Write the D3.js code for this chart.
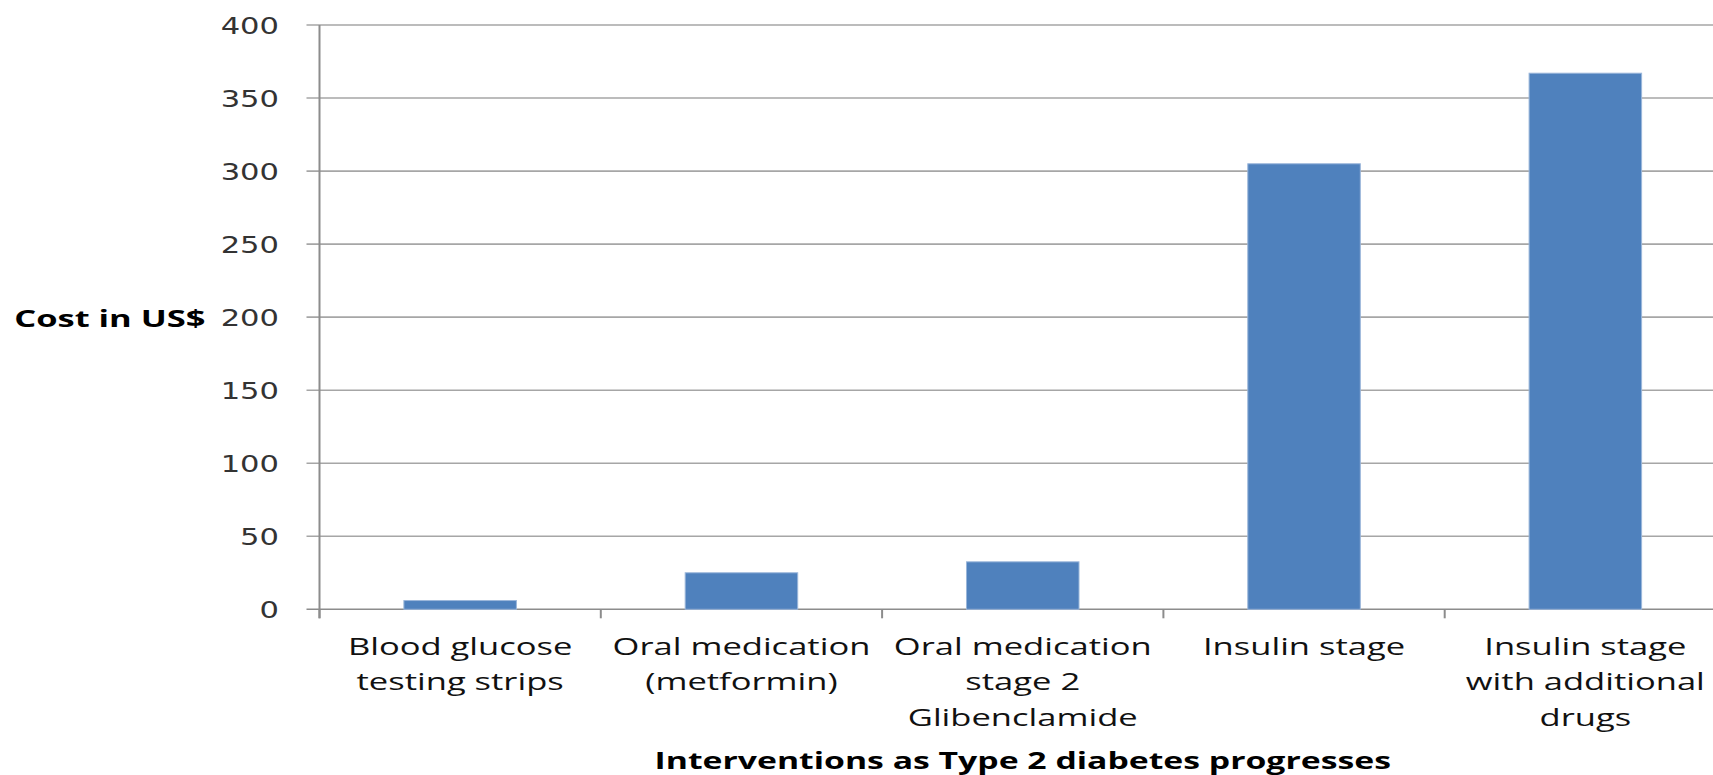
<!DOCTYPE html>
<html>
<head>
<meta charset="utf-8">
<script src="https://cdn.jsdelivr.net/npm/d3@7"></script>
<style>
  html, body { margin: 0; padding: 0; background: #ffffff; }
  svg { display: block; }
</style>
</head>
<body>
<svg id="chart" width="1713" height="775"></svg>
<script>
// ---- data ----
const categories = [
  "Blood glucose\ntesting strips",
  "Oral medication\n(metformin)",
  "Oral medication\nstage 2\nGlibenclamide",
  "Insulin stage",
  "Insulin stage\nwith additional\ndrugs"
];
const costs = [6, 25, 32.5, 305, 367];
const yTickValues = [0, 50, 100, 150, 200, 250, 300, 350, 400];
const yTitle = "Cost in US$";
const xTitle = "Interventions as Type 2 diabetes progresses";

// ---- layout ----
const W = 1713, H = 775;
const plot = { left: 319.5, right: 1726, top: 25, bottom: 609.3 };
const SX_TICK = 1.33;  // horizontal text stretch seen in the reference
const SX_CAT = 1.41;
const SX_BOLD = 1.5;

const svg = d3.select("#chart");

const x = d3.scaleBand()
  .domain(categories)
  .range([plot.left, plot.right])
  .paddingInner(0.6)
  .paddingOuter(0.3);

const y = d3.scaleLinear()
  .domain([0, 400])
  .range([plot.bottom, plot.top]);

// gridlines (with left tick stubs)
svg.append("g")
  .selectAll("line")
  .data(yTickValues)
  .join("line")
  .attr("x1", plot.left - 13)
  .attr("x2", W)
  .attr("y1", d => y(d))
  .attr("y2", d => y(d))
  .attr("stroke", d => d === 0 ? "#8c8c8c" : "#a6a6a6")
  .attr("stroke-width", 1.6);

// y axis line
svg.append("line")
  .attr("x1", plot.left).attr("x2", plot.left)
  .attr("y1", y(400)).attr("y2", plot.bottom + 9)
  .attr("stroke", "#8c8c8c")
  .attr("stroke-width", 2);

// x tick marks at band boundaries
const step = x.step();
const boundaries = d3.range(categories.length + 1).map(i => x.range()[0] + i * step);
svg.append("g")
  .selectAll("line")
  .data(boundaries)
  .join("line")
  .attr("x1", d => d).attr("x2", d => d)
  .attr("y1", plot.bottom).attr("y2", plot.bottom + 9)
  .attr("stroke", "#8c8c8c")
  .attr("stroke-width", 2);

// bars
svg.append("g")
  .selectAll("rect")
  .data(categories.map((c, i) => ({ c, v: costs[i] })))
  .join("rect")
  .attr("x", d => x(d.c))
  .attr("width", x.bandwidth())
  .attr("y", d => y(d.v))
  .attr("height", d => y(0) - y(d.v))
  .attr("fill", "#4f81bd")
  .attr("stroke", "#9ab6da")
  .attr("stroke-width", 1);

// y tick labels
svg.append("g")
  .selectAll("text")
  .data(yTickValues)
  .join("text")
  .attr("transform", d => `translate(279,${y(d) + 8.5}) scale(${SX_TICK},1)`)
  .attr("text-anchor", "end")
  .attr("font-family", "DejaVu Sans, Verdana, sans-serif")
  .attr("font-size", 23)
  .attr("fill", "#333333")
  .text(d => d);

// category labels
const cat = svg.append("g")
  .selectAll("text")
  .data(categories)
  .join("text")
  .attr("transform", d => `translate(${x(d) + x.bandwidth() / 2},655) scale(${SX_CAT},1)`)
  .attr("text-anchor", "middle")
  .attr("font-family", "Open Sans, sans-serif")
  .attr("font-size", 24.5)
  .attr("fill", "#111111");
cat.selectAll("tspan")
  .data(d => d.split("\n"))
  .join("tspan")
  .attr("x", 0)
  .attr("dy", (d, i) => i === 0 ? 0 : 35.5)
  .text(d => d);

// y axis title
svg.append("text")
  .attr("transform", `translate(205.5,327) scale(${SX_BOLD},1)`)
  .attr("text-anchor", "end")
  .attr("font-family", "Open Sans, sans-serif")
  .attr("font-weight", "bold")
  .attr("font-size", 23)
  .attr("fill", "#000")
  .text(yTitle);

// x axis title
svg.append("text")
  .attr("transform", `translate(${(plot.left + plot.right) / 2},769) scale(${SX_BOLD},1)`)
  .attr("text-anchor", "middle")
  .attr("font-family", "Open Sans, sans-serif")
  .attr("font-weight", "bold")
  .attr("font-size", 22.5)
  .attr("fill", "#000")
  .text(xTitle);
</script>
</body>
</html>
